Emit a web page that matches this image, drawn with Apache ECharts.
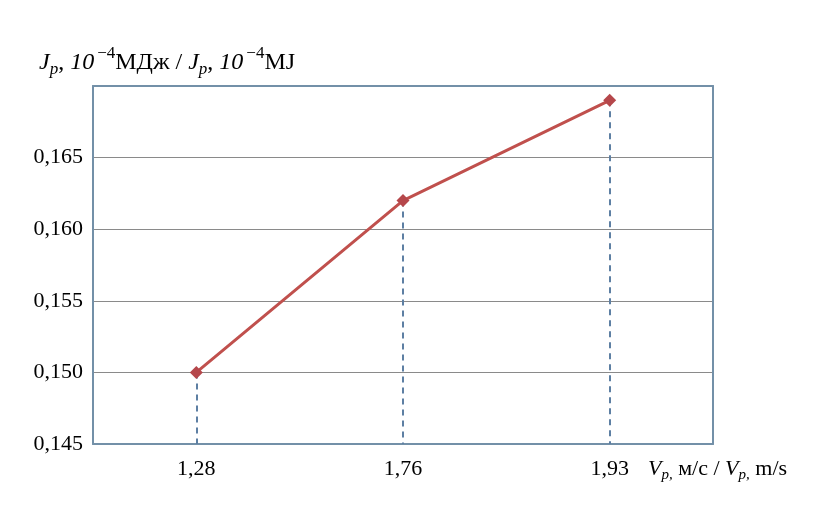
<!DOCTYPE html>
<html><head><meta charset="utf-8">
<script src="https://cdn.jsdelivr.net/npm/echarts@6/dist/echarts.min.js"></script>
<style>html,body{margin:0;padding:0;background:#fff}#c{width:822px;height:517px}</style>
</head><body><div id="c"></div>
<script>
const categories = ['1,28', '1,76', '1,93'];
const values = [0.150, 0.162, 0.169];
const yMin = 0.145, yMax = 0.170, yStep = 0.005;

const FONT = '"Liberation Serif", "Times New Roman", serif';
const chart = echarts.init(document.getElementById('c'));
const border = '#7390a8';
function mkRich(fs) {
  const base = {fontFamily: FONT, fontWeight: 'normal', color: '#000', lineHeight: 30};
  return {
    i: Object.assign({}, base, {fontSize: fs, fontStyle: 'italic', verticalAlign: 'bottom'}),
    n: Object.assign({}, base, {fontSize: fs, verticalAlign: 'bottom'}),
    sub: Object.assign({}, base, {fontSize: Math.round(fs * 0.7), fontStyle: 'italic', verticalAlign: 'bottom', padding: [0, 0, -3, 0]}),
    sup: Object.assign({}, base, {fontSize: Math.round(fs * 0.7), verticalAlign: 'top', padding: [0, 0, 0, 3]})
  };
}
chart.setOption({
  animation: false,
  title: [
    {left: 34, top: 40, text: '{i|J}{sub|p}{n|, }{i|10}{sup|−4}{n|МДж / }{i|J}{sub|p}{n|, }{i|10}{sup|−4}{n|MJ}', textStyle: {fontWeight: 'normal', rich: mkRich(24)}},
    {left: 643, top: 445, text: '{i|V}{sub|p,}{n| м/с / }{i|V}{sub|p,}{n| m/s}', textStyle: {fontWeight: 'normal', rich: mkRich(22)}}
  ],
  grid: {left: 93, right: 109, top: 86, bottom: 73},
  xAxis: [{
    type: 'category', data: categories, boundaryGap: true,
    axisLine: {lineStyle: {color: border, width: 2}},
    axisTick: {show: false},
    axisLabel: {fontFamily: FONT, fontSize: 22, color: '#000', margin: 14}
  }, {
    type: 'category', data: categories, position: 'top',
    axisLine: {lineStyle: {color: border, width: 2}},
    axisTick: {show: false}, axisLabel: {show: false}
  }],
  yAxis: [{
    type: 'value', min: yMin, max: yMax, interval: yStep,
    axisLine: {show: true, lineStyle: {color: border, width: 2}},
    axisTick: {show: false},
    splitLine: {lineStyle: {color: '#8a8a8a', width: 1}},
    axisLabel: {fontFamily: FONT, fontSize: 22, color: '#000', margin: 10,
      formatter: v => (Math.abs(v - yMax) < 1e-9 ? '' : v.toFixed(3).replace('.', ','))}
  }, {
    type: 'value', min: yMin, max: yMax, interval: yStep, position: 'right',
    axisLine: {show: true, lineStyle: {color: border, width: 2}},
    axisTick: {show: false}, axisLabel: {show: false}, splitLine: {show: false}
  }],
  series: [{
    type: 'line', data: values,
    symbol: 'diamond', symbolSize: 13,
    lineStyle: {color: '#c0504d', width: 3},
    itemStyle: {color: '#b5474b'},
    z: 5,
    markLine: {
      silent: true, symbol: 'none', label: {show: false},
      lineStyle: {color: '#5d7fa3', type: [6, 5], width: 2},
      data: values.map((v, i) => [{coord: [i, v]}, {coord: [i, yMin]}])
    }
  }]
});
</script></body></html>
